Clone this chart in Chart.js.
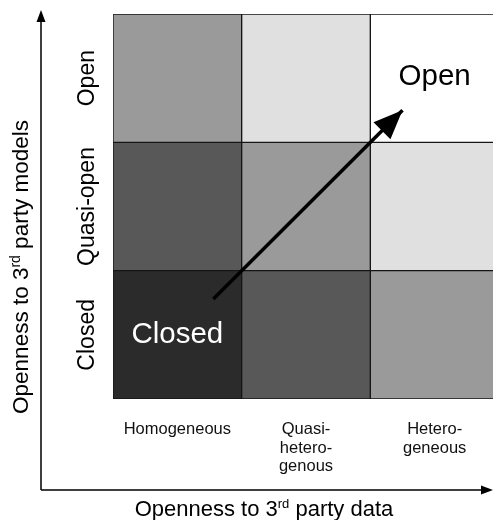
<!DOCTYPE html>
<html lang="en">
<head>
  <meta charset="UTF-8" />
  <title>Openness matrix</title>
  <script src="https://cdn.jsdelivr.net/npm/chart.js"></script>
  <style>
    body {
      margin: 0;
      background: #fff;
      overflow: hidden;
    }
    #wrap {
      position: absolute;
      left: 0;
      top: 0;
      width: 500px;
      height: 520px;
    }
  </style>
</head>
<body>
  <div id="wrap"><canvas id="chartMatrix" width="500" height="520"></canvas></div>

  <script>
    // columns (x) and rows (y, bottom to top)
    const columns = ['Homogeneous', ['Quasi-', 'hetero-', 'genous'], ['Hetero-', 'geneous']];
    const rows = ['Closed', 'Quasi-open', 'Open'];
    // each cell is one unit tall
    const cellSize = [1, 1, 1];
    // shade index of every cell, one list per row (0 = darkest)
    const shadeClosed = [0, 1, 2];
    const shadeQuasi = [1, 2, 3];
    const shadeOpen = [2, 3, 4];
    const greys = ['#2b2b2b', '#585858', '#9a9a9a', '#e0e0e0', '#ffffff'];
    // diagonal arrow, in column / row units
    const arrowX = [0.28, 1.75];
    const arrowY = [0.78, 2.25];
    const cornerLabels = ['Closed', 'Open'];
    const titleX = ['Openness to 3', 'rd', ' party data'];
    const titleY = ['Openness to 3', 'rd', ' party models'];

    const FONT = '"Liberation Sans", Arial, sans-serif';

    function drawSupTitle(ctx, parts, size) {
      const big = size + 'px ' + FONT;
      const small = Math.round(size * 0.6) + 'px ' + FONT;
      ctx.font = big;
      const w0 = ctx.measureText(parts[0]).width;
      const w2 = ctx.measureText(parts[2]).width;
      ctx.font = small;
      const w1 = ctx.measureText(parts[1]).width;
      let x = -(w0 + w1 + w2) / 2;
      ctx.textAlign = 'left';
      ctx.textBaseline = 'alphabetic';
      ctx.font = big;
      ctx.fillText(parts[0], x, size * 0.36);
      x += w0;
      ctx.font = small;
      ctx.fillText(parts[1], x, size * 0.36 - size * 0.38);
      x += w1;
      ctx.font = big;
      ctx.fillText(parts[2], x, size * 0.36);
    }

    function arrowHead(ctx, tx, ty, ang, len, half) {
      const c = Math.cos(ang), s = Math.sin(ang);
      ctx.beginPath();
      ctx.moveTo(tx, ty);
      ctx.lineTo(tx - len * c + half * s, ty - len * s - half * c);
      ctx.lineTo(tx - len * c - half * s, ty - len * s + half * c);
      ctx.closePath();
      ctx.fill();
    }

    const decor = {
      id: 'decor',
      afterDatasetsDraw(chart) {
        const ctx = chart.ctx;
        const xs = chart.scales.x;
        const ys = chart.scales.y;
        ctx.save();
        ctx.fillStyle = '#000';
        ctx.strokeStyle = '#000';

        // head of the diagonal arrow
        const pts = chart.getDatasetMeta(3).data;
        const a = pts[0], b = pts[1];
        arrowHead(ctx, b.x, b.y, Math.atan2(b.y - a.y, b.x - a.x), 29, 12);

        // labels inside the corner cells
        ctx.textAlign = 'center';
        ctx.textBaseline = 'middle';
        ctx.font = '29.5px ' + FONT;
        ctx.fillStyle = '#fff';
        ctx.fillText(cornerLabels[0], xs.getPixelForValue(0), ys.getPixelForValue(0.5));
        ctx.fillStyle = '#000';
        ctx.fillText(cornerLabels[1], xs.getPixelForValue(2), ys.getPixelForValue(2.5) - 1);

        // row labels, rotated
        ctx.font = '23px ' + FONT;
        rows.forEach((r, i) => {
          ctx.save();
          ctx.translate(88, ys.getPixelForValue(i + 0.5));
          ctx.rotate(-Math.PI / 2);
          ctx.fillText(r, 0, 0);
          ctx.restore();
        });

        // outer axes with arrows
        ctx.lineWidth = 1.5;
        ctx.beginPath();
        ctx.moveTo(41, 490);
        ctx.lineTo(41, 18);
        ctx.moveTo(41, 490);
        ctx.lineTo(484, 490);
        ctx.stroke();
        arrowHead(ctx, 41, 10, -Math.PI / 2, 12, 4.5);
        arrowHead(ctx, 493, 490, 0, 12, 4.5);

        // axis titles
        ctx.save();
        ctx.translate(264, 508);
        drawSupTitle(ctx, titleX, 22);
        ctx.restore();
        ctx.save();
        ctx.translate(20, 267);
        ctx.rotate(-Math.PI / 2);
        drawSupTitle(ctx, titleY, 22.5);
        ctx.restore();

        ctx.restore();
      }
    };

    function cellSet(label, shades) {
      return {
        label: label,
        data: cellSize,
        stack: 'cells',
        grouped: false,
        backgroundColor: shades.map(s => greys[s]),
        borderColor: '#161616',
        borderWidth: 1,
        borderSkipped: false,
        barPercentage: 1,
        categoryPercentage: 1
      };
    }

    new Chart(document.getElementById('chartMatrix').getContext('2d'), {
      type: 'bar',
      data: {
        labels: columns,
        datasets: [
          cellSet(rows[0], shadeClosed),
          cellSet(rows[1], shadeQuasi),
          cellSet(rows[2], shadeOpen),
          {
            type: 'line',
            label: 'arrow',
            xAxisID: 'xl',
            order: -1,
            data: arrowX.map((x, i) => ({ x: x, y: arrowY[i] })),
            borderColor: '#000',
            borderWidth: 3.5,
            pointRadius: 0,
            fill: false
          }
        ]
      },
      options: {
        responsive: false,
        animation: false,
        layout: { padding: { left: 113, top: 14, right: 1, bottom: 0 } },
        scales: {
          x: {
            stacked: true,
            grid: { display: false, drawTicks: false },
            border: { display: false },
            ticks: {
              color: '#111',
              padding: 21,
              font: { family: FONT, size: 16.5, lineHeight: 1.13 }
            },
            afterFit: s => { s.height = 121; }
          },
          xl: { type: 'linear', display: false, offset: false, min: -0.5, max: 2.5 },
          y: { stacked: true, display: false, min: 0, max: 3 }
        },
        plugins: {
          legend: { display: false },
          tooltip: { enabled: false }
        }
      },
      plugins: [decor]
    });
  </script>
</body>
</html>
